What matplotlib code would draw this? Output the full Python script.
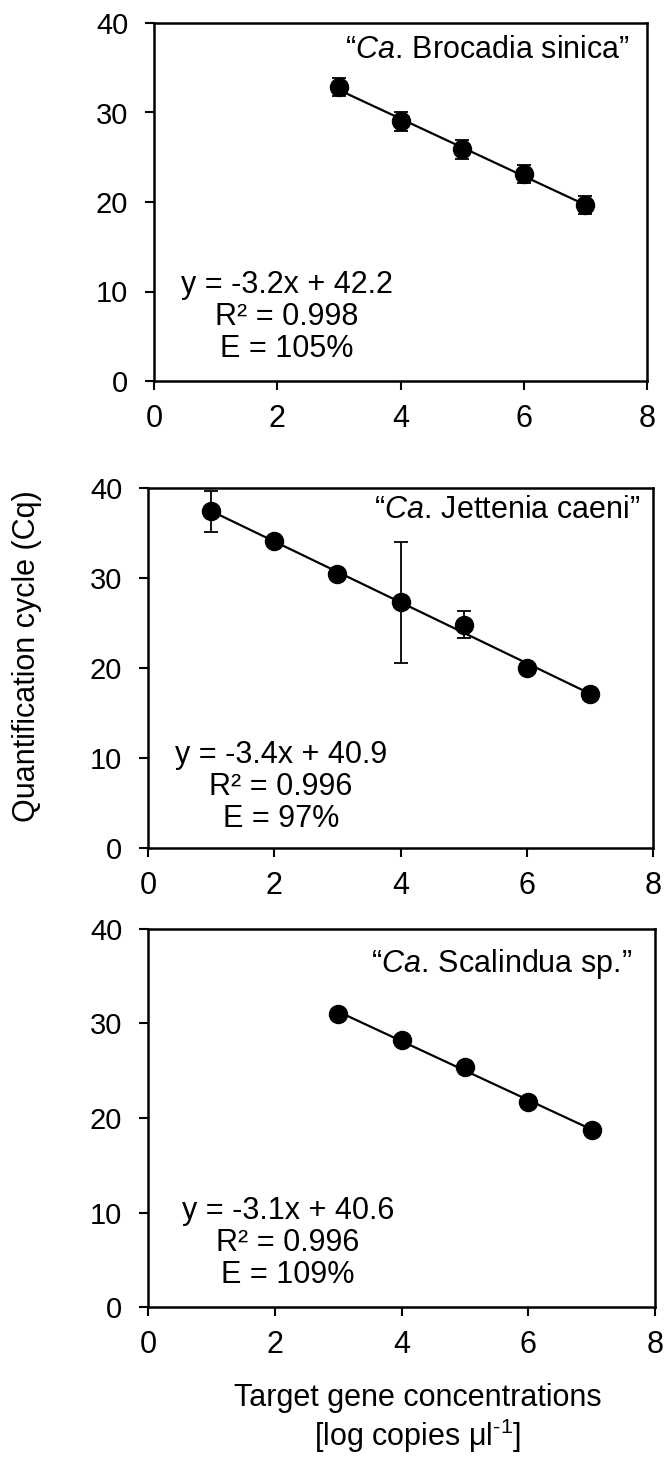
import numpy as np
import matplotlib
matplotlib.use("Agg")
import matplotlib.pyplot as plt

plt.rcParams["font.family"] = ["Liberation Sans", "DejaVu Sans"]
plt.rcParams["mathtext.fontset"] = "custom"
plt.rcParams["mathtext.rm"] = "Liberation Sans"
plt.rcParams["mathtext.it"] = "Liberation Sans:italic"

# --- data ---
brocadia_x = [3, 4, 5, 6, 7]
brocadia_cq = [32.8, 29.0, 25.9, 23.1, 19.7]
brocadia_err = [1.0, 1.05, 1.05, 1.0, 1.0]

jettenia_x = [1, 2, 3, 4, 5, 6, 7]
jettenia_cq = [37.4, 34.1, 30.4, 27.3, 24.8, 20.0, 17.1]
jettenia_err = [2.25, 0.3, 0.3, 6.7, 1.5, 0.3, 0.3]

scalindua_x = [3, 4, 5, 6, 7]
scalindua_cq = [31.0, 28.3, 25.4, 21.7, 18.7]
scalindua_err = [0.3, 0.3, 0.3, 0.5, 0.2]

titles = ["Brocadia sinica", "Jettenia caeni", "Scalindua sp."]
equations = ["y = -3.2x + 42.2\nR² = 0.998\nE = 105%",
             "y = -3.4x + 40.9\nR² = 0.996\nE = 97%",
             "y = -3.1x + 40.6\nR² = 0.996\nE = 109%"]

W, H = 664, 1457
fig = plt.figure(figsize=(W / 100, H / 100), dpi=100)

# panel boxes in pixels: left, right, top, bottom
boxes = [(154, 647, 23, 381), (148, 653, 488, 848), (148, 655, 929, 1307)]
title_pos = [(0.966, 0.902), (0.974, 0.917), (0.955, 0.886)]
eq_pos = [(0.270, 0.179), (0.263, 0.170), (0.276, 0.169)]

series = [(brocadia_x, brocadia_cq, brocadia_err),
          (jettenia_x, jettenia_cq, jettenia_err),
          (scalindua_x, scalindua_cq, scalindua_err)]

for i, (xs, ys, errs) in enumerate(series):
    l, r, t, b = boxes[i]
    ax = fig.add_axes([l / W, 1 - b / H, (r - l) / W, (b - t) / H])

    # regression line
    k, c = np.polyfit(xs, ys, 1)
    xl = np.array([min(xs), max(xs)])
    ax.plot(xl, k * xl + c, color="black", lw=1.6, zorder=2)

    ax.errorbar(xs, ys, yerr=errs, fmt="o", color="black", ms=13,
                ecolor="black", elinewidth=1.3, capsize=5.3, capthick=1.3, zorder=3)

    ax.set_xlim(0, 8)
    ax.set_ylim(0, 40)
    ax.set_xticks([0, 2, 4, 6, 8])
    ax.set_yticks([0, 10, 20, 30, 40])
    ax.tick_params(axis="both", direction="out", length=6.5, width=1.5, color="black")
    ax.tick_params(axis="x", labelsize=22, pad=10)
    ax.tick_params(axis="y", labelsize=21, pad=12)
    for sp in ax.spines.values():
        sp.set_linewidth(1.8)
        sp.set_color("black")

    tx, ty = title_pos[i]
    ax.text(tx, ty, "$\\mathit{“Ca.}\\,$" + titles[i] + "”", transform=ax.transAxes,
            ha="right", va="baseline", fontsize=22)

    ex, ey = eq_pos[i]
    ax.text(ex, ey, equations[i], transform=ax.transAxes, ha="center", va="center",
            multialignment="center", fontsize=22, linespacing=1.1)

fig.text(27 / W, 1 - 656 / H, "Quantification cycle (Cq)", rotation=90,
         ha="center", va="center", fontsize=22)
fig.text(418 / W, 1 - 1419 / H, "Target gene concentrations\n[log copies μl$^{\\text{-1}}$]",
         ha="center", va="center", multialignment="center", fontsize=22, linespacing=1.1)

fig.savefig("out.png", dpi=100)
